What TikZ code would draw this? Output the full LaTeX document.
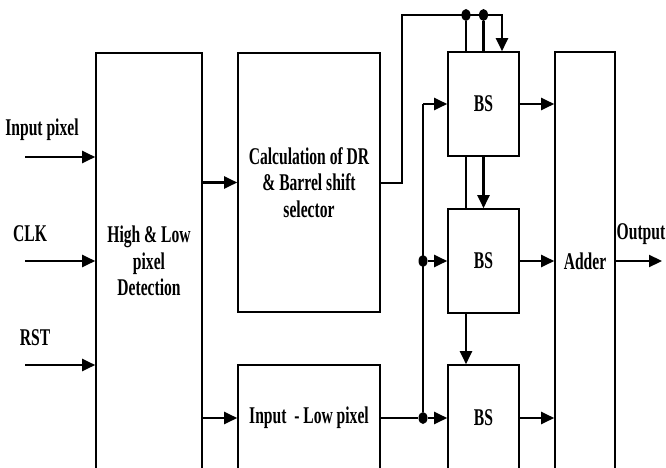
\documentclass[tikz,border=0pt]{standalone}
\usepackage{fontspec}
\setmainfont{Liberation Serif}[FakeStretch=0.65]
\usetikzlibrary{arrows.meta,positioning,calc,shapes.geometric}

\tikzset{
  blk/.style={draw,line width=1.6pt,inner sep=0pt,align=center,
    font=\bfseries\fontsize{24}{26.5}\selectfont},
  lbl/.style={font=\bfseries\fontsize{24}{26.5}\selectfont,inner sep=0pt},
  arr/.style={-{Triangle[length=13pt,width=12pt]},line width=2.2pt},
  wire/.style={line width=2.2pt},
  dot/.style={ellipse,fill,inner sep=0pt,minimum width=9pt,minimum height=12pt}
}

\begin{document}
\begin{tikzpicture}[x=1pt,y=-1pt]
\useasboundingbox (0,0) rectangle (666,468);
\clip (0,0) rectangle (666,468);

% blocks
\node[blk,minimum width=106pt,minimum height=416pt] (det) at (149,261) {High \& Low\\pixel\\Detection};
\node[blk,minimum width=142pt,minimum height=259pt] (calc) at (309,182.5) {Calculation of DR\\\& Barrel shift\\selector};
\node[blk,minimum width=142pt,minimum height=106pt] (low) at (309,418) {Input~~- Low pixel};
\node[blk,minimum width=71pt,minimum height=104pt] (bs1) at (483.5,104) {BS};
\node[blk,minimum width=71pt,minimum height=104pt] (bs2) at (483.5,261) {BS};
\node[blk,minimum width=71pt,minimum height=106pt] (bs3) at (483.5,418) {BS};
\node[blk,minimum width=60pt,minimum height=418pt] (add) at (585,261) {Adder};

% inputs
\foreach \y/\t/\x/\n in {157/Input pixel/42/inp,261/CLK/30/clk,365/RST/35/rst} {
  \coordinate (\n) at (25,\y);
  \node[lbl] (\n l) at (\x,\y-27) {\t};
  \draw[arr] (\n) -- (\n -| det.west);
}

\draw[arr] (det.east |- calc.west) -- (calc.west);
\draw[arr] (det.east |- low.west) -- (low.west);

% select lines over the top
\coordinate (up) at (402,15);
\node[dot] (d1) at ([xshift=-17.5pt]bs1.north |- up) {};
\node[dot] (d2) at (bs1.north |- up) {};
\draw[arr] (calc.east |- 0,183) -| (up) -| ([xshift=18.5pt]bs1.north);
\draw[wire] (d1) -- (d1 |- bs1.north);
\draw[wire] (d2) -- (bs1.north);

% chain of shifters
\draw[wire] ([xshift=-17.5pt]bs1.south) -- ([xshift=-17.5pt]bs2.north);
\draw[arr] (bs1.south) -- (bs2.north);
\draw[arr] ([xshift=-17.5pt]bs2.south) -- ([xshift=-17.5pt]bs3.north);

% low pixel bus
\coordinate (bt) at (423,104);
\node[dot] (d3) at (bt |- bs2.west) {};
\node[dot] (d4) at (bt |- bs3.west) {};
\draw[wire] (low.east) -- (d4);
\draw[wire] (d4) -- (bt);
\draw[arr] (bt) -- (bs1.west);
\draw[arr] (d3) -- (bs2.west);
\draw[arr] (d4) -- (bs3.west);

% to adder and out
\foreach \b in {bs1,bs2,bs3} {
  \draw[arr] (\b.east) -- (\b.east -| add.west);
}
\coordinate (out) at (662,261);
\draw[arr] (add.east) -- (out);
\node[lbl] (outl) at (641,234) {Output};
\end{tikzpicture}
\end{document}
